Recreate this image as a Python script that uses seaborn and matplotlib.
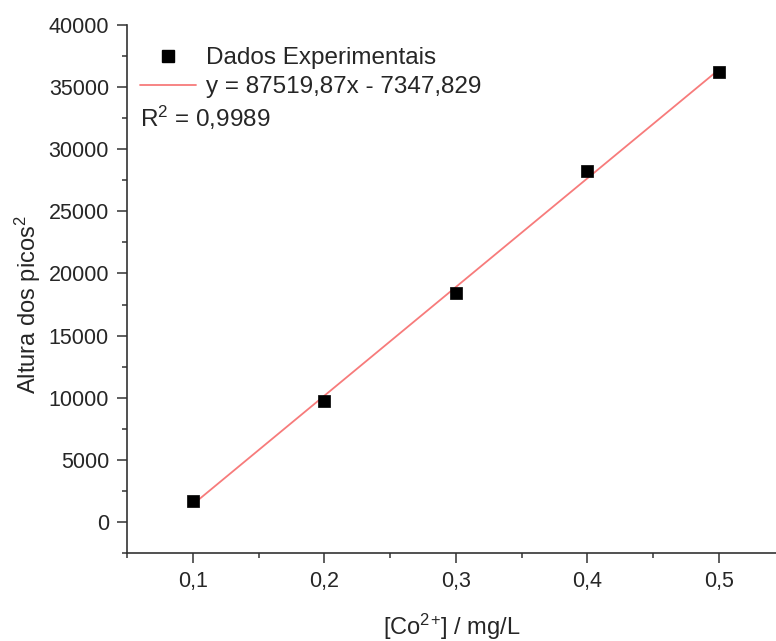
import numpy as np
import pandas as pd
import seaborn as sns
import matplotlib.pyplot as plt
from matplotlib.lines import Line2D
from matplotlib.ticker import MultipleLocator, FuncFormatter

# Dados
concentracao = [0.1, 0.2, 0.3, 0.4, 0.5]
altura = [1710, 9735, 18460, 28250, 36195]

# Ajuste linear (da legenda)
inclinacao = 87519.87
intercepto = -7347.829
r2_texto = '0,9989'

sns.set_style('ticks')
plt.rcParams['font.family'] = ['Liberation Sans', 'DejaVu Sans']
plt.rcParams['mathtext.fontset'] = 'custom'
plt.rcParams['mathtext.rm'] = 'Liberation Sans'
plt.rcParams['mathtext.it'] = 'Liberation Sans:italic'
plt.rcParams['mathtext.bf'] = 'Liberation Sans:bold'

cor_texto = '#262626'
cor_linha = '#f77b7b'

df = pd.DataFrame({'x': concentracao, 'y': altura})
x_fit = np.array([min(concentracao), max(concentracao)])
df_fit = pd.DataFrame({'x': x_fit, 'y': inclinacao * x_fit + intercepto})

fig = plt.figure(figsize=(7.76, 6.41), dpi=100)
ax = fig.add_axes([127 / 776, 1 - 553 / 641, 1 - 127 / 776, (553 - 25) / 641])

sns.lineplot(data=df_fit, x='x', y='y', color=cor_linha, linewidth=1.3, ax=ax, zorder=2)
sns.scatterplot(data=df, x='x', y='y', marker='s', s=80, color='black',
                edgecolor='black', linewidth=0.5, ax=ax, zorder=3)

ax.set_xlim(0.05, 0.5434)
ax.set_ylim(-2500, 40000)

ax.xaxis.set_major_locator(MultipleLocator(0.1))
ax.xaxis.set_minor_locator(MultipleLocator(0.05))
ax.yaxis.set_major_locator(MultipleLocator(5000))
ax.yaxis.set_minor_locator(MultipleLocator(2500))
ax.xaxis.set_major_formatter(FuncFormatter(lambda v, p: f'{v:.1f}'.replace('.', ',')))
ax.yaxis.set_major_formatter(FuncFormatter(lambda v, p: f'{v:.0f}'))

for s in ['top', 'right']:
    ax.spines[s].set_visible(False)
for s in ['left', 'bottom']:
    ax.spines[s].set_linewidth(1.2)
    ax.spines[s].set_color('#333333')

ax.tick_params(which='major', direction='out', length=7, width=1.1, color='#333333',
               labelsize=15.5, labelcolor=cor_texto, pad=6)
ax.tick_params(which='minor', direction='out', length=3.5, width=1.1, color='#333333')

ax.set_xlabel('[Co$^{2}$$^{+}$] / mg/L', fontsize=17, color=cor_texto, labelpad=14)
ax.set_ylabel('Altura dos picos$^{2}$', fontsize=17, color=cor_texto)
ax.yaxis.set_label_coords(-0.13, 0.47)

# Legenda
handles = [
    Line2D([], [], marker='s', linestyle='none', color='black', markersize=8.5),
    Line2D([], [], color=cor_linha, linewidth=1.3),
]
labels = ['Dados Experimentais', f'y = {inclinacao:.2f}x - {abs(intercepto):.3f}'.replace('.', ',')]
fig.legend(handles, labels, loc='upper left', bbox_to_anchor=(140 / 776, 1 - 47 / 641),
           frameon=False, fontsize=17.5, handlelength=2.3, handletextpad=0.41,
           labelspacing=0.3, borderpad=0, borderaxespad=0, labelcolor=cor_texto)
fig.text(140 / 776, 1 - 118 / 641, 'R$^2$ = ' + r2_texto, fontsize=17.5,
         color=cor_texto, va='center', ha='left')

plt.savefig('out.png', dpi=100)
